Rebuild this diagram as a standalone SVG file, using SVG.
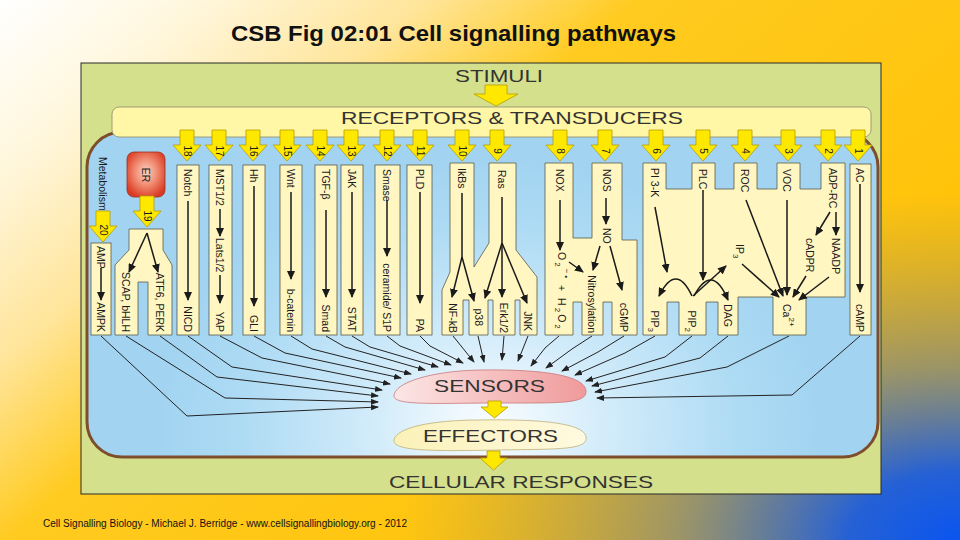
<svg xmlns="http://www.w3.org/2000/svg" width="960" height="540" viewBox="0 0 960 540">
<defs>
  <linearGradient id="bg" gradientUnits="userSpaceOnUse" x1="0" y1="0" x2="600" y2="700">
    <stop offset="0" stop-color="#FFFFFF"/>
    <stop offset="0.15" stop-color="#FFF6DA"/>
    <stop offset="0.3" stop-color="#FFE59A"/>
    <stop offset="0.45" stop-color="#FFCB20"/>
    <stop offset="1" stop-color="#FFC000"/>
  </linearGradient>
  <radialGradient id="bgblue" gradientUnits="userSpaceOnUse" cx="960" cy="540" r="560" gradientTransform="translate(960 540) scale(1 0.62) translate(-960 -540)">
    <stop offset="0" stop-color="#0A55F0" stop-opacity="1"/>
    <stop offset="0.2" stop-color="#1A5CE0" stop-opacity="0.95"/>
    <stop offset="0.5" stop-color="#4A70B8" stop-opacity="0.55"/>
    <stop offset="1" stop-color="#808080" stop-opacity="0"/>
  </radialGradient>
  <radialGradient id="cellg" gradientUnits="userSpaceOnUse" cx="490" cy="425" r="330" gradientTransform="translate(490 425) scale(1 0.8) translate(-490 -425)">
    <stop offset="0" stop-color="#FAFDFF"/>
    <stop offset="0.35" stop-color="#D3ECFA"/>
    <stop offset="0.75" stop-color="#AEDBF4"/>
    <stop offset="1" stop-color="#A2D4F1"/>
  </radialGradient>
  <linearGradient id="sens" x1="0" y1="0" x2="1" y2="0">
    <stop offset="0" stop-color="#FCE6E6"/>
    <stop offset="1" stop-color="#F09A9A"/>
  </linearGradient>
  <linearGradient id="eff" x1="0" y1="0" x2="1" y2="0">
    <stop offset="0" stop-color="#FBF1B8"/>
    <stop offset="1" stop-color="#FFFAE0"/>
  </linearGradient>
  <radialGradient id="erg" cx="0.5" cy="0.45" r="0.6">
    <stop offset="0" stop-color="#FBD2C4"/>
    <stop offset="0.5" stop-color="#F08A70"/>
    <stop offset="1" stop-color="#D93A22"/>
  </radialGradient>
  <marker id="ah" markerUnits="userSpaceOnUse" markerWidth="9" markerHeight="8" refX="8" refY="4" orient="auto"><path d="M0,0 L9,4 L0,8 Z" fill="#1a1a1a"/></marker>
  <marker id="as" markerUnits="userSpaceOnUse" markerWidth="8" markerHeight="6" refX="7" refY="3" orient="auto"><path d="M0,0 L8,3 L0,6 Z" fill="#222"/></marker>
  <path id="na" d="M-7,0 H7 V15 H14 L0,31 L-14,15 H-7 Z"/>
  <style>
    .col { fill:#FFF6C2; stroke:#5a5a48; stroke-width:0.8; }
    .ya { fill:#FFE800; stroke:#B89C00; stroke-width:0.8; }
    .lb { font-family:"Liberation Sans",Arial,sans-serif; font-size:10.5px; fill:#1a1a1a; dominant-baseline:central; }
    .num { font-family:"Liberation Sans",Arial,sans-serif; font-size:10px; fill:#1a1a1a; dominant-baseline:central; text-anchor:middle; }
    .big { font-family:"Liberation Sans",Arial,sans-serif; font-size:17px; fill:#333; }
    .ar { stroke:#1a1a1a; stroke-width:1.5; fill:none; marker-end:url(#ah); }
    .sl { stroke:#222; stroke-width:1; fill:none; marker-end:url(#as); }
  </style>
</defs>

<!-- background -->
<rect x="0" y="0" width="960" height="540" fill="url(#bg)"/>
<rect x="0" y="0" width="960" height="540" fill="url(#bgblue)"/>
<text x="231" y="41" font-family="'Liberation Sans',Arial,sans-serif" font-size="22" font-weight="bold" fill="#111" textLength="445" lengthAdjust="spacingAndGlyphs">CSB Fig 02:01 Cell signalling pathways</text>
<text x="43" y="527" font-family="'Liberation Sans',Arial,sans-serif" font-size="10" fill="#111" textLength="364" lengthAdjust="spacingAndGlyphs">Cell Signalling Biology - Michael J. Berridge - www.cellsignallingbiology.org - 2012</text>

<g id="frame">
  <rect x="81" y="63" width="800" height="431" fill="#D4E08C" stroke="#2a2a2a" stroke-width="1"/>
</g>
<g id="membrane">
  <rect x="87" y="132" width="791" height="325" rx="35" fill="url(#cellg)" stroke="#7E4E2C" stroke-width="3"/>
</g>
<g id="stimuli">
  <text class="big" x="455" y="82" font-size="16" textLength="88" lengthAdjust="spacingAndGlyphs">STIMULI</text>
  <path class="ya" d="M485,85 H507 V94 H518 L496,106 L474,94 H485 Z"/>
</g>
<g id="receptors">
  <rect x="112" y="107" width="759" height="30" rx="7" fill="#FFF6A6" stroke="#8a8a70" stroke-width="0.8"/>
  <text class="big" x="341" y="124" font-size="16" textLength="342" lengthAdjust="spacingAndGlyphs">RECEPTORS &amp; TRANSDUCERS</text>
</g>

<!-- numbered transducer arrows -->
<g id="transducer-arrows">
  <use href="#na" class="ya" transform="translate(187 130)"/><text class="num" transform="translate(187 151) rotate(90)">18</text>
  <use href="#na" class="ya" transform="translate(219 130)"/><text class="num" transform="translate(219 151) rotate(90)">17</text>
  <use href="#na" class="ya" transform="translate(253 130)"/><text class="num" transform="translate(253 151) rotate(90)">16</text>
  <use href="#na" class="ya" transform="translate(287 130)"/><text class="num" transform="translate(287 151) rotate(90)">15</text>
  <use href="#na" class="ya" transform="translate(320 130)"/><text class="num" transform="translate(320 151) rotate(90)">14</text>
  <use href="#na" class="ya" transform="translate(351 130)"/><text class="num" transform="translate(351 151) rotate(90)">13</text>
  <use href="#na" class="ya" transform="translate(387 130)"/><text class="num" transform="translate(387 151) rotate(90)">12</text>
  <use href="#na" class="ya" transform="translate(420 130)"/><text class="num" transform="translate(420 151) rotate(90)">11</text>
  <use href="#na" class="ya" transform="translate(462 130)"/><text class="num" transform="translate(462 151) rotate(90)">10</text>
  <use href="#na" class="ya" transform="translate(497 130)"/><text class="num" transform="translate(497 151) rotate(90)">9</text>
  <use href="#na" class="ya" transform="translate(560 130)"/><text class="num" transform="translate(560 151) rotate(90)">8</text>
  <use href="#na" class="ya" transform="translate(605 130)"/><text class="num" transform="translate(605 151) rotate(90)">7</text>
  <use href="#na" class="ya" transform="translate(656 130)"/><text class="num" transform="translate(656 151) rotate(90)">6</text>
  <use href="#na" class="ya" transform="translate(703 130)"/><text class="num" transform="translate(703 151) rotate(90)">5</text>
  <use href="#na" class="ya" transform="translate(745 130)"/><text class="num" transform="translate(745 151) rotate(90)">4</text>
  <use href="#na" class="ya" transform="translate(788 130)"/><text class="num" transform="translate(788 151) rotate(90)">3</text>
  <use href="#na" class="ya" transform="translate(828 130)"/><text class="num" transform="translate(828 151) rotate(90)">2</text>
  <use href="#na" class="ya" transform="translate(858 130)"/><text class="num" transform="translate(858 151) rotate(90)">1</text>
</g>

<g id="metabolism">
  <text class="lb" transform="translate(103 157) rotate(90)">Metabolism</text>
  <use href="#na" class="ya" transform="translate(103 211)"/><text class="num" transform="translate(103 230) rotate(90)">20</text>
  <rect class="col" x="91" y="243" width="20" height="92"/>
  <text class="lb" transform="translate(101 246) rotate(90)">AMP</text>
  <text class="lb" text-anchor="end" transform="translate(101 332) rotate(90)">AMPK</text>
</g>

<g id="er">
  <rect x="127" y="152" width="38" height="45" rx="7" fill="url(#erg)" stroke="#9a3020" stroke-width="0.8"/>
  <text class="lb" text-anchor="middle" transform="translate(146 175) rotate(90)">ER</text>
  <use href="#na" class="ya" transform="translate(147 196)"/><text class="num" transform="translate(147 216) rotate(90)">19</text>
  <path class="col" d="M129,229 H163 V250 L172,265 V335 H148 V282 H138 V335 H115 V265 L129,250 Z"/>
  <text class="lb" text-anchor="end" transform="translate(126 332) rotate(90)">SCAP, bHLH</text>
  <text class="lb" text-anchor="end" transform="translate(160 332) rotate(90)">ATF6, PERK</text>
</g>

<g id="notch">
  <rect class="col" x="177" y="165" width="22" height="170"/>
  <text class="lb" transform="translate(188 169) rotate(90)">Notch</text>
  <text class="lb" text-anchor="end" transform="translate(188 332) rotate(90)">NICD</text>
</g>
<g id="mst">
  <rect class="col" x="209" y="165" width="23" height="170"/>
  <text class="lb" transform="translate(220 169) rotate(90)">MST1/2</text>
  <text class="lb" transform="translate(220 238) rotate(90)">Lats1/2</text>
  <text class="lb" text-anchor="end" transform="translate(220 332) rotate(90)">YAP</text>
</g>
<g id="hh">
  <rect class="col" x="243" y="165" width="22" height="170"/>
  <text class="lb" transform="translate(254 169) rotate(90)">Hh</text>
  <text class="lb" text-anchor="end" transform="translate(254 332) rotate(90)">GLI</text>
</g>
<g id="wnt">
  <rect class="col" x="280" y="165" width="22" height="170"/>
  <text class="lb" transform="translate(291 169) rotate(90)">Wnt</text>
  <text class="lb" text-anchor="end" transform="translate(291 332) rotate(90)">b-catenin</text>
</g>
<g id="tgf">
  <rect class="col" x="315" y="165" width="22" height="170"/>
  <text class="lb" transform="translate(326 169) rotate(90)">TGF-β</text>
  <text class="lb" text-anchor="end" transform="translate(326 332) rotate(90)">Smad</text>
</g>
<g id="jak">
  <rect class="col" x="341" y="165" width="22" height="170"/>
  <text class="lb" transform="translate(352 169) rotate(90)">JAK</text>
  <text class="lb" text-anchor="end" transform="translate(352 332) rotate(90)">STAT</text>
</g>
<g id="smase">
  <rect class="col" x="375" y="165" width="25" height="170"/>
  <text class="lb" font-size="8.5" transform="translate(387 169) rotate(90)">Smase</text>
  <text class="lb" text-anchor="end" transform="translate(387 332) rotate(90)">ceramide/ S1P</text>
</g>
<g id="pld">
  <rect class="col" x="407" y="165" width="25" height="170"/>
  <text class="lb" transform="translate(420 169) rotate(90)">PLD</text>
  <text class="lb" text-anchor="end" transform="translate(420 332) rotate(90)">PA</text>
</g>
<g id="ikbs-ras">
  <path class="col" d="M450,163 H474 V267 L489,243 V163 H516 V250 L537,277 V335 H520 V300 H515 V335 H493 V300 H488 V335 H469 V300 H463 V335 H442 V290 L450,272 Z"/>
  <text class="lb" transform="translate(462 168) rotate(90)">IkBs</text>
  <text class="lb" font-size="9" transform="translate(502 170) rotate(90)">Ras</text>
  <text class="lb" text-anchor="end" transform="translate(453 333) rotate(90)">NF-kB</text>
  <text class="lb" text-anchor="end" transform="translate(479 326) rotate(90)">p38</text>
  <text class="lb" text-anchor="end" transform="translate(504 333) rotate(90)">Erk1/2</text>
  <text class="lb" text-anchor="end" transform="translate(528 331) rotate(90)">JNK</text>
</g>
<g id="nox-nos">
  <path class="col" d="M545,163 H573 V238 H592 V163 H622 V240 H637 V335 H612 V302 H603 V335 H582 V302 H573 V335 H545 Z"/>
  <text class="lb" transform="translate(560 169) rotate(90)">NOX</text>
  <text class="lb" transform="translate(607 169) rotate(90)">NOS</text>
  <text class="lb" transform="translate(607 228) rotate(90)">NO</text>
  <text class="lb" letter-spacing="2" transform="translate(562 252) rotate(90)">O<tspan baseline-shift="sub" font-size="8">2</tspan><tspan baseline-shift="super" font-size="8">−•</tspan> + H<tspan baseline-shift="sub" font-size="8">2</tspan>O<tspan baseline-shift="sub" font-size="8">2</tspan></text>
  <text class="lb" text-anchor="end" transform="translate(592 333) rotate(90)">Nitrosylation</text>
  <text class="lb" text-anchor="end" transform="translate(624 332) rotate(90)">cGMP</text>
</g>
<g id="pi3k-plc">
  <path class="col" d="M643,163 H666 V189 H692 V163 H715 V189 H734 V163 H757 V189 H777 V163 H800 V189 H821 V163 H845 V297 H806 V335 H773 V297 H738 V335 H718 V302 H706 V335 H679 V302 H667 V335 H643 Z"/>
  <text class="lb" transform="translate(655 168) rotate(90)">PI 3-K</text>
  <text class="lb" transform="translate(703 169) rotate(90)">PLC</text>
  <text class="lb" transform="translate(745 169) rotate(90)">ROC</text>
  <text class="lb" transform="translate(787 169) rotate(90)">VOC</text>
  <text class="lb" transform="translate(833 168) rotate(90)">ADP-RC</text>
  <text class="lb" transform="translate(740 244) rotate(90)">IP<tspan baseline-shift="sub" font-size="8">3</tspan></text>
  <text class="lb" transform="translate(810 238) rotate(90)">cADPR</text>
  <text class="lb" transform="translate(836 238) rotate(90)">NAADP</text>
  <text class="lb" text-anchor="end" transform="translate(655 332) rotate(90)">PIP<tspan baseline-shift="sub" font-size="8">3</tspan></text>
  <text class="lb" text-anchor="end" transform="translate(692 332) rotate(90)">PIP<tspan baseline-shift="sub" font-size="8">2</tspan></text>
  <text class="lb" text-anchor="end" transform="translate(728 327) rotate(90)">DAG</text>
  <text class="lb" transform="translate(787 304) rotate(90)">Ca<tspan baseline-shift="super" font-size="8">2+</tspan></text>
</g>
<g id="ac">
  <rect class="col" x="850" y="164" width="21" height="171"/>
  <text class="lb" transform="translate(860 168) rotate(90)">AC</text>
  <text class="lb" text-anchor="end" transform="translate(860 332) rotate(90)">cAMP</text>
</g>

<g id="sensors">
  <path d="M394,396 C394,383 430,371 480,370 C540,369 585,375 586,391 C587,404 560,403 500,403 C440,403 394,406 394,396 Z" fill="url(#sens)" stroke="#C87878" stroke-width="0.8"/>
  <text class="big" x="434" y="392" font-size="18" textLength="111" lengthAdjust="spacingAndGlyphs">SENSORS</text>
</g>
<g id="effectors">
  <path class="ya" d="M488,401 H501 V407 H508 L494.5,418 L481,407 H488 Z"/>
  <path d="M394,440 C396,428 430,420 480,420 C540,419 584,423 586,437 C588,450 560,449 500,450 C440,451 392,452 394,440 Z" fill="url(#eff)" stroke="#BDB078" stroke-width="0.8"/>
  <text class="big" x="423" y="442" font-size="18" textLength="135" lengthAdjust="spacingAndGlyphs">EFFECTORS</text>
</g>
<g id="responses">
  <path class="ya" d="M487,451 H500 V458 H507 L493.5,470 L480,458 H487 Z"/>
  <text class="big" x="389" y="488" font-size="18" textLength="264" lengthAdjust="spacingAndGlyphs">CELLULAR RESPONSES</text>
</g>

<g id="connectors">
  <!-- inside pathways -->
  <path class="ar" d="M101,268 V300"/>
  <path class="ar" d="M147,233 L129,272"/>
  <path class="ar" d="M147,233 L158,272"/>
  <path class="ar" d="M188,201 V300"/>
  <path class="ar" d="M220,209 V236"/>
  <path class="ar" d="M220,275 V303"/>
  <path class="ar" stroke-width="3" d="M254,186 V306"/>
  <path class="ar" d="M291,192 V279"/>
  <path class="ar" d="M326,210 V297"/>
  <path class="ar" d="M352,192 V297"/>
  <path class="ar" d="M387,200 V256"/>
  <path class="ar" d="M420,192 V303"/>
  <path class="ar" d="M462,193 V257 L452,297"/>
  <path class="ar" d="M462,257 L474,301"/>
  <path class="ar" d="M502,197 V243 L485,298"/>
  <path class="ar" d="M502,243 V297"/>
  <path class="ar" d="M502,243 L527,303"/>
  <path class="ar" d="M560,200 V250"/>
  <path class="ar" d="M606,198 V224"/>
  <path class="ar" d="M600,246 L593,270"/>
  <path class="ar" d="M610,246 L622,290"/>
  <path class="ar" d="M569,262 L583,272"/>
  <path class="ar" d="M655,207 L667,272"/>
  <path class="ar" d="M703,190 V280"/>
  <path class="ar" d="M693,296 L726,266"/>
  <path class="ar" d="M692,296 Q676,262 659,296"/>
  <path class="ar" d="M694,296 Q712,262 728,300"/>
  <path class="ar" d="M742,264 L779,297"/>
  <path class="ar" d="M746,200 L783,296"/>
  <path class="ar" d="M787,200 V295"/>
  <path class="ar" d="M830,212 L816,235"/>
  <path class="ar" d="M836,212 V235"/>
  <path class="ar" d="M806,276 L793,297"/>
  <path class="ar" d="M829,277 L799,300"/>
  <path class="ar" d="M860,184 V292"/>
  <!-- to sensors -->
  <path class="sl" d="M101,336 L187,416 L378,407"/>
  <path class="sl" d="M126,336 L225,398 L378,402"/>
  <path class="sl" d="M160,336 L217,377 L378,396"/>
  <path class="sl" d="M188,336 L232,367 L382,390"/>
  <path class="sl" d="M220,336 L262,358 L390,384"/>
  <path class="sl" d="M254,336 L285,353 L401,378"/>
  <path class="sl" d="M291,336 L312,349 L411,374"/>
  <path class="sl" d="M326,336 L345,347 L425,370"/>
  <path class="sl" d="M352,336 L370,347 L438,367"/>
  <path class="sl" d="M387,336 L400,346 L451,365"/>
  <path class="sl" d="M420,336 L430,346 L463,363"/>
  <path class="sl" d="M453,336 L474,362"/>
  <path class="sl" d="M478,336 L484,362"/>
  <path class="sl" d="M504,336 L502,360"/>
  <path class="sl" d="M528,336 L518,361"/>
  <path class="sl" d="M559,336 L545,348 L531,366"/>
  <path class="sl" d="M592,336 L572,349 L546,368"/>
  <path class="sl" d="M624,336 L598,352 L562,371"/>
  <path class="sl" d="M655,336 L625,353 L575,375"/>
  <path class="sl" d="M692,336 L665,357 L586,381"/>
  <path class="sl" d="M728,336 L700,358 L592,386"/>
  <path class="sl" d="M789,336 L727,367 L595,392"/>
  <path class="sl" d="M860,336 L792,395 L597,398"/>
</g>
</svg>
